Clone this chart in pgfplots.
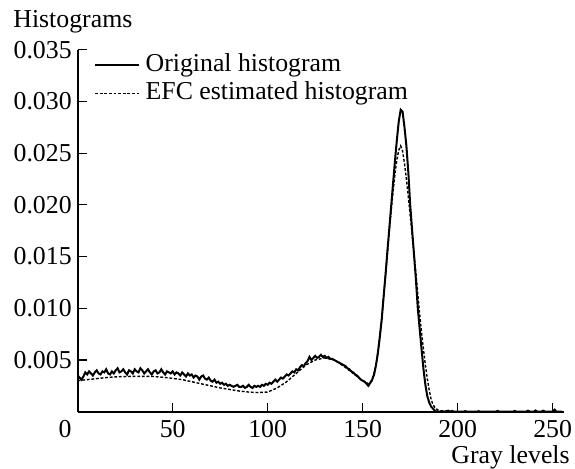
\documentclass[border=0pt]{standalone}
\usepackage{pgfplots}
\pgfplotsset{compat=1.18}
\usepackage{fontspec}
\setmainfont{Liberation Serif}
\begin{document}
\fontsize{12.9pt}{15pt}\selectfont
\begin{tikzpicture}
\useasboundingbox (-38.85pt,-28.15pt) rectangle (248.65pt,205.85pt);
\begin{axis}[
  scale only axis,
  width=243.2pt, height=181pt,
  xmin=0, xmax=256, ymin=0, ymax=0.035,
  axis x line=bottom, axis y line=left,
  axis line style={-, line width=0.9pt},
  tick align=inside,
  major tick length=4.5pt,
  tick style={black, line width=0.6pt},
  xtick={50,100,150,200,250},
  extra x ticks={0},
  extra x tick style={major tick length=0pt, xticklabel style={xshift=-6.3pt}},
  ytick={0.005,0.010,0.015,0.020,0.025,0.030,0.035},
  yticklabels={0.005,0.010,0.015,0.020,0.025,0.030,0.035},
  /pgf/number format/assume math mode=true,
  yticklabel style={inner sep=0pt, xshift=-2.8pt},
  xticklabel style={inner sep=0pt, yshift=-4pt},
  scaled y ticks=false,
  legend cell align=left,
  legend style={draw=none, fill=none, at={(axis cs:8.5,0.0348)}, anchor=north west,
    inner sep=0pt, row sep=1.2pt,
    nodes={inner sep=0.5pt, text height=9pt, text depth=3pt},
    /tikz/every odd column/.append style={column sep=2.2pt}},
  legend image code/.code={\draw[#1] (0pt,0pt) -- (22pt,0pt);},
]
\addplot[black, line width=1pt] coordinates {
(0,0.0035) (1,0.0033) (2,0.0031) (3,0.0034) (4,0.0038) (5,0.0036) (6,0.0039) (7,0.0037) (8,0.0035) (9,0.0038)
(10,0.0040) (11,0.0037) (12,0.0036) (13,0.0039) (14,0.0038) (15,0.0041) (16,0.0037) (17,0.0036) (18,0.0039) (19,0.0037)
(20,0.0040) (21,0.0042) (22,0.0038) (23,0.0039) (24,0.0041) (25,0.0038) (26,0.0036) (27,0.0040) (28,0.0039) (29,0.0037)
(30,0.0041) (31,0.0039) (32,0.0038) (33,0.0042) (34,0.0040) (35,0.0037) (36,0.0039) (37,0.0041) (38,0.0038) (39,0.0036)
(40,0.0039) (41,0.0040) (42,0.0037) (43,0.0038) (44,0.0041) (45,0.0038) (46,0.0036) (47,0.0039) (48,0.0038) (49,0.0037)
(50,0.0039) (51,0.0036) (52,0.0038) (53,0.0037) (54,0.0035) (55,0.0038) (56,0.0036) (57,0.0034) (58,0.0037) (59,0.0035)
(60,0.0036) (61,0.0033) (62,0.0035) (63,0.0034) (64,0.0031) (65,0.0034) (66,0.0035) (67,0.0032) (68,0.0031) (69,0.0033)
(70,0.0030) (71,0.0029) (72,0.0031) (73,0.0028) (74,0.0029) (75,0.0027) (76,0.0028) (77,0.0026) (78,0.0027) (79,0.0025)
(80,0.0026) (81,0.0025) (82,0.0024) (83,0.0025) (84,0.0026) (85,0.0024) (86,0.0024) (87,0.0025) (88,0.0023) (89,0.0024)
(90,0.0026) (91,0.0024) (92,0.0023) (93,0.0025) (94,0.0024) (95,0.0025) (96,0.0024) (97,0.0026) (98,0.0025) (99,0.0027)
(100,0.0026) (101,0.0028) (102,0.0027) (103,0.0029) (104,0.0031) (105,0.0029) (106,0.0031) (107,0.0033) (108,0.0032) (109,0.0034)
(110,0.0036) (111,0.0035) (112,0.0037) (113,0.0039) (114,0.0038) (115,0.0041) (116,0.0040) (117,0.0043) (118,0.0045) (119,0.0044)
(120,0.0047) (121,0.0049) (122,0.0053) (123,0.0050) (124,0.0052) (125,0.0054) (126,0.0052) (127,0.0053) (128,0.0055) (129,0.0053)
(130,0.0054) (131,0.0052) (132,0.0053) (133,0.0051) (134,0.0051) (135,0.0050) (136,0.0049) (137,0.0048) (138,0.0047) (139,0.0046)
(140,0.0045) (141,0.0044) (142,0.0042) (143,0.0041) (144,0.0039) (145,0.0038) (146,0.0036) (147,0.0035) (148,0.0033) (149,0.0031)
(150,0.0030) (151,0.0029) (152,0.0027) (153,0.0025) (154,0.0028) (155,0.0031) (156,0.0036) (157,0.0045) (158,0.0057) (159,0.0072)
(160,0.0089) (161,0.0111) (162,0.0132) (163,0.0155) (164,0.0177) (165,0.0199) (166,0.0221) (167,0.0243) (168,0.0263) (169,0.0281)
(170,0.0292) (171,0.0290) (172,0.0275) (173,0.0257) (174,0.0232) (175,0.0200) (176,0.0176) (177,0.0152) (178,0.0128) (179,0.0100)
(180,0.0080) (181,0.0060) (182,0.0041) (183,0.0026) (184,0.0015) (185,0.0009) (186,0.0005) (187,0.0003) (188,0.0001) (189,0.0000)
(190,0.0000) (191,0.0000) (192,0.00005) (193,0.0000) (195,0.0001) (196,0.0000) (197,0.00008) (198,0.0000) (203,0.0000) (204,0.00006)
(205,0.0000) (210,0.0000) (211,0.00005) (212,0.0000) (220,0.0000) (221,0.00008) (222,0.0000) (229,0.0000) (230,0.00007) (231,0.0000)
(236,0.0000) (237,0.0001) (238,0.0000) (240,0.0000) (241,0.00012) (242,0.0000) (244,0.0000) (245,0.0001) (246,0.0000) (250,0.0000)
(251,0.0002) (252,0.0000) (255,0.0000)
};
\addlegendentry{Original histogram}
\addplot[black, line width=0.7pt, dash pattern=on 1.4pt off 0.9pt] coordinates {
(0,0.0030) (5,0.0031) (10,0.0032) (15,0.0033) (20,0.00337) (25,0.0034) (30,0.00342) (35,0.00342) (40,0.0034)
(45,0.00333) (50,0.00322) (55,0.0031) (60,0.0029) (65,0.0027) (70,0.0025) (75,0.0023) (80,0.00215) (85,0.0020)
(90,0.0019) (95,0.00185) (100,0.0019) (105,0.0023) (110,0.0029) (115,0.0037) (120,0.0045) (125,0.0050) (130,0.0052)
(135,0.0050) (140,0.0044) (145,0.0037) (150,0.0030) (153,0.0027) (155,0.0030) (157,0.0045) (158,0.0057) (160,0.0089)
(162,0.0132) (164,0.0175) (165,0.0195) (166,0.0213) (167,0.0230) (168,0.0244) (169,0.0253) (170,0.0257) (171,0.0252)
(172,0.0240) (173,0.0225) (174,0.0208) (175,0.0190) (176,0.0172) (177,0.0153) (178,0.0134) (179,0.0114) (180,0.0094)
(181,0.0076) (182,0.0060) (183,0.0045) (184,0.0032) (185,0.0021) (186,0.0012) (187,0.0007) (188,0.0004) (190,0.0001)
(195,0.0000) (255,0.0000)
};
\addlegendentry{EFC estimated histogram}
\end{axis}
\node[anchor=base east, inner sep=0pt] at (246.2pt,-25.8pt) {Gray levels};
\node[anchor=base west, inner sep=0pt] at (-32.35pt,192.2pt) {Histograms};
\end{tikzpicture}
\end{document}
